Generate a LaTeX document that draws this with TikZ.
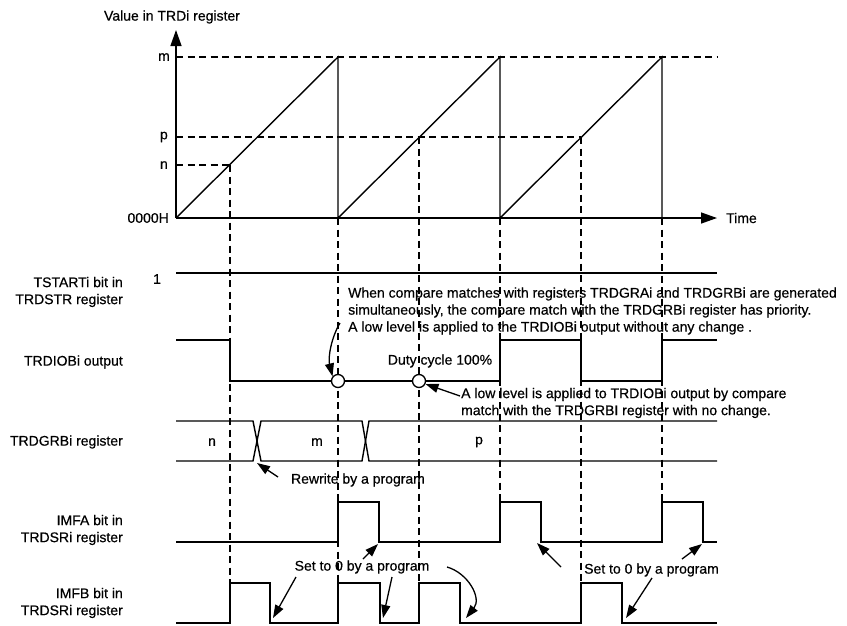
\documentclass[tikz,border=0pt]{standalone}
\usepackage{fontspec}
\setmainfont{Liberation Sans}[FakeBold=0.5]
\usetikzlibrary{arrows.meta}
\begin{document}
\begin{tikzpicture}[x=1pt,y=-1pt,
  sig/.style={line width=1.4pt, line join=miter},
  guide/.style={line width=2pt, dash pattern=on 7pt off 4.5pt},
  lbl/.style={font=\fontsize{14}{17}\selectfont, inner sep=0pt},
  ptr/.style={line width=1.3pt, -{Triangle[length=13pt,width=9pt]}},
  axisarrow/.style={line width=1.4pt, -{Triangle[length=16pt,width=11pt]}},
  ring/.style={circle, draw, fill=white, minimum size=13pt, inner sep=0pt, line width=1.3pt},
]
\useasboundingbox (0,0) rectangle (847,625);

% ---------- axes ----------
\coordinate (O) at (176,218);
\coordinate (ytop) at (176,30);
\coordinate (xend) at (717,218);
\draw[axisarrow] (O) -- (ytop);
\draw[axisarrow] (O) -- (xend);
\node[lbl] (ylab) at (172,17) {Value in TRDi register};
\node[lbl, anchor=west] (tlab) at (726,218) {Time};
\node[lbl, anchor=east] (lm) at (170,57) {m};
\node[lbl, anchor=east] (lp) at (168,137) {p};
\node[lbl, anchor=east] (ln) at (168,165) {n};
\node[lbl, anchor=east] (l0) at (169,218) {0000H};

% reference levels
\draw[guide] (176,57) -- (717,57);
\draw[guide] (176,137) -- (581,137);
\draw[guide] (176,165) -- (230,165);

% ramps
\draw[sig] (176,218) -- (338,57) -- (338,218) -- (500,57) -- (500,218) -- (662,57) -- (662,218);

% vertical guides
\draw[guide] (230,165) -- (230,583);
\draw[guide] (338,218) -- (338,583);
\draw[guide] (419,137) -- (419,583);
\draw[guide] (500,218) -- (500,502);
\draw[guide] (581,137) -- (581,583);
\draw[guide] (662,218) -- (662,502);

% ---------- signal labels ----------
\node[lbl, anchor=east, align=right] (sTST) at (123,292) {TSTARTi bit in\\TRDSTR register};
\node[lbl, anchor=east] (sIOB) at (123,362) {TRDIOBi output};
\node[lbl, anchor=east] (sGRB) at (123,442) {TRDGRBi register};
\node[lbl, anchor=east, align=right] (sIMFA) at (123,530) {IMFA bit in\\TRDSRi register};
\node[lbl, anchor=east, align=right] (sIMFB) at (123,603) {IMFB bit in\\TRDSRi register};
\node[lbl] (one) at (157,279) {1};

% TSTART
\draw[sig] (176,273) -- (717,273);

% TRDIOBi output
\draw[sig] (176,340) -- (230,340) -- (230,381) -- (500,381) -- (500,340) -- (581,340) -- (581,381) -- (662,381) -- (662,340) -- (717,340);
\node[ring] (o1) at (338,381) {};
\node[ring] (o2) at (419,381) {};

% TRDGRBi bus
\draw[sig] (176,421) -- (253,421) -- (261,461) -- (362,461) -- (369,421) -- (717,421);
\draw[sig] (176,461) -- (253,461) -- (261,421) -- (362,421) -- (369,461) -- (717,461);
\node[lbl] (bn) at (212,442) {n};
\node[lbl] (bm) at (317,442) {m};
\node[lbl] (bp) at (479,442) {p};

% IMFA
\draw[sig] (176,542) -- (338,542) -- (338,502) -- (379,502) -- (379,542) -- (500,542) -- (500,502) -- (541,502) -- (541,542) -- (662,542) -- (662,502) -- (703,502) -- (703,542) -- (717,542);
% IMFB
\draw[sig] (176,623) -- (230,623) -- (230,583) -- (270,583) -- (270,623) -- (338,623) -- (338,583) -- (380,583) -- (380,623) -- (419,623) -- (419,583) -- (460,583) -- (460,623) -- (581,623) -- (581,583) -- (622,583) -- (622,623) -- (717,623);

% ---------- annotations ----------
\node[lbl, anchor=west, align=left] (note1) at (348,311) {When compare matches with registers TRDGRAi and TRDGRBi are generated\\simultaneously, the compare match with the TRDGRBi register has priority.\\A low level is applied to the TRDIOBi output without any change .};
\coordinate (n1s) at (340,323);
\draw[ptr] (n1s) .. controls (331,338) and (328,358) .. (o1.140);

\node[lbl] (duty) at (440,361) {Duty cycle 100\%};

\node[lbl, anchor=west, align=left] (note2) at (461,403) {A low level is applied to TRDIOBi output by compare\\match with the TRDGRBI register with no change.};
\coordinate (n2s) at (460,396);
\draw[ptr] (n2s) -- (o2.-25);

\node[lbl] (rw) at (358,480) {Rewrite by a program};
\coordinate (rws) at (278,477);
\coordinate (rwt) at (257,463);
\draw[ptr] (rws) -- (rwt);

\node[lbl] (set1) at (362,567) {Set to 0 by a program};
\node[lbl, anchor=west] (set2) at (584,570) {Set to 0 by a program};

\coordinate (a1s) at (296,577); \coordinate (a1t) at (273,618);
\coordinate (a2s) at (363,559); \coordinate (a2t) at (378,544);
\coordinate (a3s) at (392,577); \coordinate (a3t) at (383,618);
\coordinate (a4s) at (447,567); \coordinate (a4t) at (466,618);
\coordinate (a5s) at (561,567); \coordinate (a5t) at (537,543);
\coordinate (a6s) at (652,578); \coordinate (a6t) at (626,618);
\coordinate (a7s) at (682,559); \coordinate (a7t) at (702,544);
\draw[ptr] (a1s) -- (a1t);
\draw[ptr] (a2s) -- (a2t);
\draw[ptr] (a3s) -- (a3t);
\draw[ptr] (a4s) .. controls (468,573) and (482,598) .. (a4t);
\draw[ptr] (a5s) -- (a5t);
\draw[ptr] (a6s) -- (a6t);
\draw[ptr] (a7s) -- (a7t);
\end{tikzpicture}
\end{document}
